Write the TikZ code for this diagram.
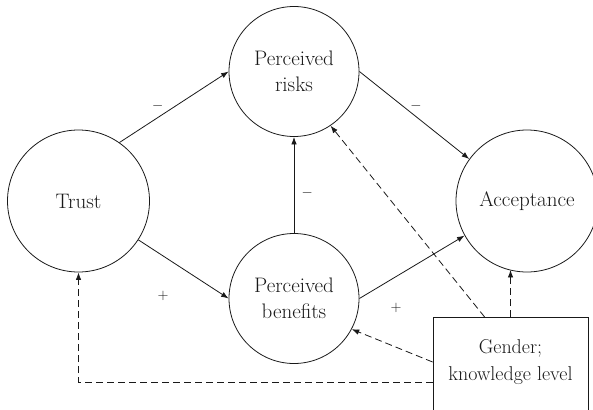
\documentclass[tikz,border=0pt]{standalone}
\usepackage{amsmath}
\usetikzlibrary{arrows.meta}

\begin{document}
\begin{tikzpicture}[x=1pt, y=-1pt, color=black!90,
  construct/.style={circle, draw, line width=0.8pt, align=center, font=\fontsize{21}{26}\selectfont},
  effect/.style={-{Latex[length=7.5pt,width=5.5pt]}, line width=0.8pt},
  moderated/.style={effect, dash pattern=on 7pt off 4pt},
  signlabel/.style={font=\fontsize{14}{16}\selectfont}]
  \useasboundingbox (0,0) rectangle (593,409);
  \clip (0,0) rectangle (593,409);
  \node[construct, minimum size=142pt] (trust) at (78.5,201) {Trust};
  \node[construct, minimum size=130pt] (risks) at (294,71.5) {Perceived\\ risks};
  \node[construct, minimum size=130pt] (benefits) at (294,298.5) {Perceived\\ benefits};
  \node[construct, minimum size=142pt] (acceptance) at (527,201) {Acceptance};
  \node[draw, line width=0.8pt, anchor=north, minimum width=155pt, minimum height=110pt,
    text depth=25pt, align=center, font=\fontsize{20}{27}\selectfont] (box) at (510.5,317) {Gender;\\ knowledge level};
  \coordinate (gr) at ([xshift=52pt]box.north west);
  \coordinate (gb) at ([yshift=-45pt]box.north west);
  \coordinate (gt) at ([yshift=-65pt]box.north west);
  \draw[effect] (trust.55) -- node[signlabel, pos=0.35, above=3pt] (s1) {$-$} (risks.west);
  \draw[effect] (trust.-33) -- node[signlabel, pos=0.275, below=31pt] (s2) {$+$} (benefits.west);
  \draw[effect] (benefits.north) -- node[signlabel, pos=0.42, right=4pt] (s3) {$-$} (risks.south);
  \draw[effect] (risks.east) -- node[signlabel, pos=0.515, above=2pt] (s4) {$-$} (acceptance.144);
  \draw[effect] (benefits.east) -- node[signlabel, pos=0.35, below=22.5pt] (s5) {$+$} (acceptance.-151);
  \draw[moderated] (gr) -- (risks.-56);
  \draw[moderated] (box.north) -- (box.north |- acceptance.-105);
  \draw[moderated] (gb) -- (benefits.-28);
  \draw[moderated] (gt) -| (trust.south);
\end{tikzpicture}
\end{document}
